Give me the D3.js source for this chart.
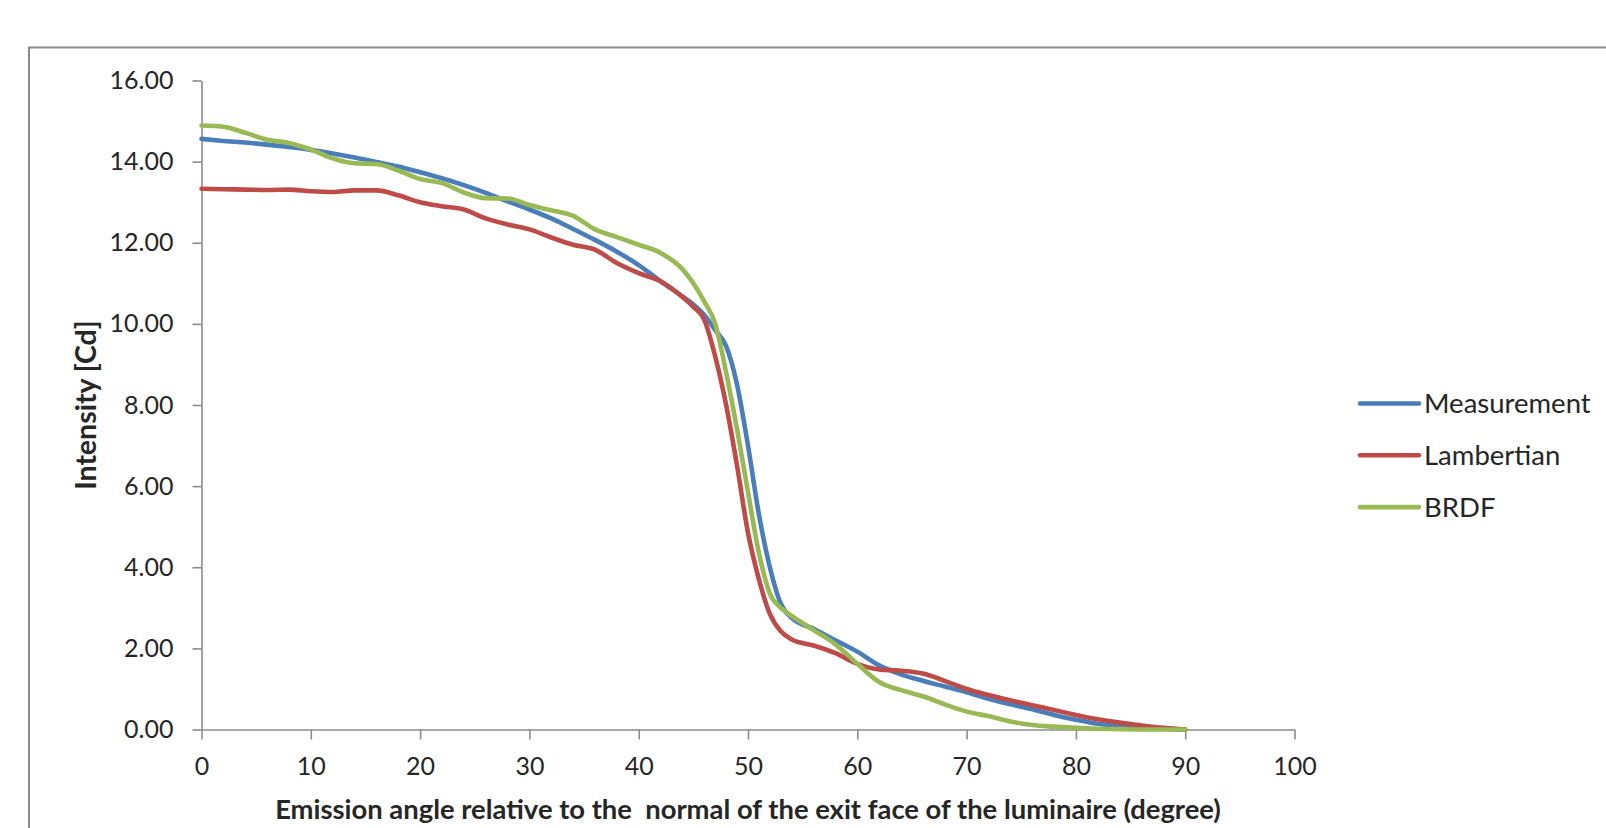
<!DOCTYPE html>
<html>
<head>
<meta charset="utf-8">
<script src="https://d3js.org/d3.v7.min.js"></script>
<style>
  body { margin: 0; background: #fff; }
  text { font-family: Lato, "Open Sans", sans-serif; fill: #262626; }
</style>
</head>
<body>
<div id="chart"></div>
<script>
  // emission angle (degree)
  var angles = [0,2,4,6,8,10,12,14,16,18,20,22,24,26,28,30,32,34,36,38,40,42,44,45,46,47,48,49,50,51,52,53,54,56,58,60,62,64,66,68,70,72,74,76,78,80,82,84,86,88,90];

  var measurement = [14.56,14.51,14.47,14.42,14.36,14.29,14.2,14.1,13.99,13.88,13.74,13.59,13.42,13.23,13.02,12.82,12.6,12.34,12.07,11.78,11.45,11.05,10.68,10.48,10.22,9.85,9.45,8.5,7.0,5.3,4.0,3.1,2.75,2.48,2.2,1.92,1.58,1.36,1.2,1.06,0.92,0.76,0.62,0.5,0.36,0.24,0.14,0.08,0.04,0.02,0.0];

  var lambertian = [13.33,13.32,13.31,13.3,13.31,13.27,13.25,13.29,13.29,13.17,13.0,12.9,12.82,12.6,12.45,12.33,12.13,11.95,11.83,11.5,11.25,11.05,10.66,10.42,10.1,9.2,8.0,6.5,4.85,3.7,2.85,2.42,2.22,2.07,1.88,1.62,1.48,1.45,1.38,1.2,1.0,0.85,0.72,0.6,0.48,0.36,0.25,0.17,0.1,0.04,0.0];

  var brdf = [14.89,14.86,14.71,14.54,14.46,14.3,14.08,13.96,13.94,13.78,13.57,13.47,13.24,13.1,13.09,12.93,12.8,12.66,12.33,12.14,11.95,11.75,11.35,11.0,10.55,10.0,8.8,7.4,5.85,4.35,3.35,3.0,2.8,2.45,2.1,1.62,1.17,0.97,0.82,0.62,0.44,0.33,0.2,0.11,0.07,0.04,0.02,0.01,0.0,0.0,0.0];

  var seriesNames = ["Measurement", "Lambertian", "BRDF"];
  var seriesColors = ["#4A7EBB", "#BE4B48", "#98B954"];
  var yTicks = [0,2,4,6,8,10,12,14,16];
  var xTicks = [0,10,20,30,40,50,60,70,80,90,100];

  var W = 1606, H = 828;
  var plot = {left: 201.5, right: 1294.5, top: 80.5, bottom: 729.5};

  var svg = d3.select("#chart").append("svg")
              .attr("width", W)
              .attr("height", H);

  // chart area border (cut off by the picture on the right and bottom)
  svg.append("rect")
     .attr("x", 29).attr("y", 47.5)
     .attr("width", 1620).attr("height", 820)
     .attr("fill", "none")
     .attr("stroke", "#8a8a8a")
     .attr("stroke-width", 2);

  var x = d3.scaleLinear().domain([0, 100]).range([plot.left, plot.right]);
  var y = d3.scaleLinear().domain([0, 16]).range([plot.bottom, plot.top]);

  var yAxis = svg.append("g")
     .attr("transform", "translate(" + plot.left + ",0)")
     .call(d3.axisLeft(y).tickValues(yTicks).tickFormat(d3.format(".2f"))
             .tickSizeInner(9).tickSizeOuter(0).tickPadding(19));

  var xAxis = svg.append("g")
     .attr("transform", "translate(0," + plot.bottom + ")")
     .call(d3.axisBottom(x).tickValues(xTicks).tickFormat(d3.format("d"))
             .tickSizeInner(10).tickSizeOuter(0).tickPadding(18));

  [xAxis, yAxis].forEach(function(g){
    g.select(".domain").attr("stroke", "#8c8c8c").attr("stroke-width", 1.6);
    g.selectAll(".tick line").attr("stroke", "#8c8c8c").attr("stroke-width", 1.6);
    g.selectAll(".tick text")
     .attr("font-family", "Lato, 'Open Sans', sans-serif")
     .attr("font-size", 25)
     .attr("fill", "#262626");
  });

  // series lines
  var all = [measurement, lambertian, brdf];
  var line = d3.line()
               .x(function(d, i){ return x(angles[i]); })
               .y(function(d){ return y(d); })
               .curve(d3.curveMonotoneX);

  svg.selectAll("path.series")
     .data(all)
     .enter()
     .append("path")
     .attr("class", "series")
     .attr("d", line)
     .attr("fill", "none")
     .attr("stroke", function(d, i){ return seriesColors[i]; })
     .attr("stroke-width", 4.6)
     .attr("stroke-linejoin", "round")
     .attr("stroke-linecap", "round");

  // axis titles
  svg.append("text")
     .attr("x", (plot.left + plot.right) / 2)
     .attr("y", 809)
     .attr("dy", "0.35em")
     .attr("text-anchor", "middle")
     .attr("font-size", 27.4)
     .attr("font-weight", "bold")
     .style("white-space", "pre")
     .attr("fill", "#000")
     .text("Emission angle relative to the  normal of the exit face of the luminaire (degree)");

  svg.append("text")
     .attr("transform", "translate(86," + ((plot.top + plot.bottom) / 2) + ") rotate(-90)")
     .attr("dy", "0.35em")
     .attr("text-anchor", "middle")
     .attr("font-size", 28.5)
     .attr("font-weight", "bold")
     .attr("fill", "#000")
     .text("Intensity [Cd]");

  // legend
  var legend = svg.selectAll("g.legend")
     .data(seriesNames)
     .enter()
     .append("g")
     .attr("class", "legend")
     .attr("transform", function(d, i){ return "translate(1360," + (403.5 + i * 51.8) + ")"; });

  legend.append("line")
     .attr("x1", 0).attr("x2", 59)
     .attr("y1", 0).attr("y2", 0)
     .attr("stroke", function(d, i){ return seriesColors[i]; })
     .attr("stroke-width", 4.6)
     .attr("stroke-linecap", "round");

  legend.append("text")
     .attr("x", 64)
     .attr("dy", "0.35em")
     .attr("font-size", 27.5)
     .attr("fill", "#262626")
     .text(function(d){ return d; });
</script>
</body>
</html>
